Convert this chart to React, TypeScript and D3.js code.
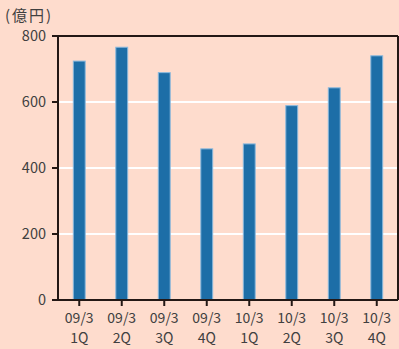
import React from "react";
import * as d3 from "d3";

const categories = ["09/3\n1Q", "09/3\n2Q", "09/3\n3Q", "09/3\n4Q", "10/3\n1Q", "10/3\n2Q", "10/3\n3Q", "10/3\n4Q"];
const values = [724, 766, 689, 458, 473, 589, 643, 740];
const yTicks = [0, 200, 400, 600, 800];
const unitLabel = "(億円)";

export default function App() {
  const W = 399, H = 349;
  const left = 58, right = 398, top = 36, bottom = 300;
  const x = d3.scaleBand<string>().domain(categories).range([left, right]).paddingInner(0.72).paddingOuter(0.36);
  const y = d3.scaleLinear().domain([0, 800]).range([bottom, top]);
  const font = "'Noto Sans CJK JP', 'Noto Sans', sans-serif";
  const axisColor = "#231815";
  const textColor = "#404040";
  return (
    <svg width={W} height={H} style={{ position: "absolute", left: 0, top: 0 }} fontFamily={font}>
      <rect x={0} y={0} width={W} height={H} fill="#fedccd" />
      {yTicks.filter(t => t > 0 && t < 800).map(t => (
        <line key={"g" + t} x1={left} x2={right} y1={y(t)} y2={y(t)} stroke="#ffffff" strokeWidth={2} />
      ))}
      {categories.map((c, i) => (
        <rect key={c} x={x(c)!} y={y(values[i])} width={x.bandwidth()} height={bottom - y(values[i])}
          fill="#1d6ea7" stroke="#8ab8dd" strokeWidth={1} />
      ))}
      <line x1={52} x2={right} y1={top} y2={top} stroke={axisColor} strokeWidth={2} />
      <line x1={right} x2={right} y1={top} y2={bottom} stroke={axisColor} strokeWidth={2} />
      <line x1={left} x2={left} y1={top} y2={bottom} stroke={axisColor} strokeWidth={2} />
      <line x1={52} x2={right} y1={bottom} y2={bottom} stroke={axisColor} strokeWidth={2} />
      {yTicks.map(t => (
        <g key={"t" + t}>
          <line x1={52} x2={left} y1={y(t)} y2={y(t)} stroke={axisColor} strokeWidth={2} />
          <text x={46} y={y(t)} dy="0.35em" textAnchor="end" fontSize={14.5} fill={textColor}>{t}</text>
        </g>
      ))}
      {categories.map(c => {
        const cx = x(c)! + x.bandwidth() / 2;
        const [l1, l2] = c.split("\n");
        return (
          <g key={"x" + c}>
            <line x1={cx} x2={cx} y1={bottom} y2={bottom + 6} stroke={axisColor} strokeWidth={2} />
            <text x={cx} y={323} textAnchor="middle" fontSize={14} fill={textColor}>{l1}</text>
            <text x={cx} y={343} textAnchor="middle" fontSize={14} fill={textColor}>{l2}</text>
          </g>
        );
      })}
      <text x={5} y={21} fontSize={15} letterSpacing={2} fill={textColor}>{unitLabel}</text>
    </svg>
  );
}
